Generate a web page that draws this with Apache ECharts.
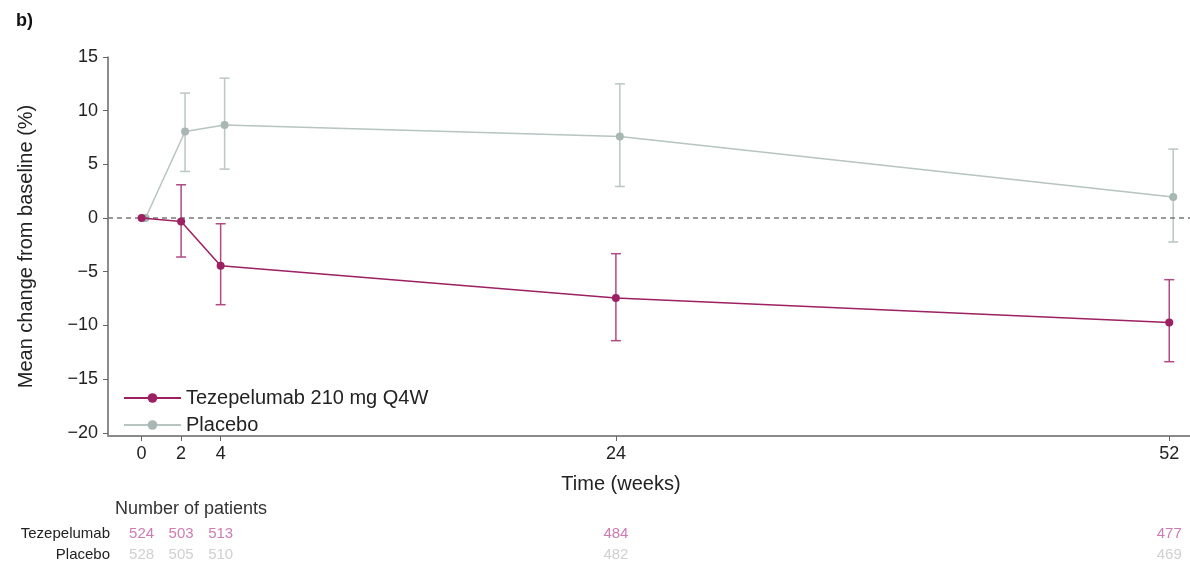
<!DOCTYPE html>
<html>
<head>
<meta charset="utf-8">
<script src="https://cdn.jsdelivr.net/npm/echarts@6/dist/echarts.min.js"></script>
<style>html,body{margin:0;padding:0;background:#fff}#c{width:1190px;height:565px}</style>
</head>
<body>
<div id="c"></div>
<script>
// ---- data ----
const weeks = [0, 2, 4, 24, 52];
const xTicks = [0, 2, 4, 24, 52];
const yTicks = [-20, -15, -10, -5, 0, 5, 10, 15];
const tezName = 'Tezepelumab 210 mg Q4W';
const pboName = 'Placebo';
const tezMean = [0, -0.32, -4.44, -7.45, -9.72];
const tezLow  = [null, -3.63, -8.07, -11.42, -13.38];
const tezHigh = [null, 3.1, -0.53, -3.32, -5.74];
const pboMean = [0, 8.06, 8.66, 7.6, 1.96];
const pboLow  = [null, 4.34, 4.56, 2.94, -2.23];
const pboHigh = [null, 11.64, 13.03, 12.5, 6.42];
const rowNames = ['Placebo', 'Tezepelumab'];
const tezN = [524, 503, 513, 484, 477];
const pboN = [528, 505, 510, 482, 469];
const PBO_SHIFT = 0.2; // small horizontal dodge of placebo marks

const FONT = 'Liberation Sans, Arial, sans-serif';
const TEZ = '#9c2062', TEZ_ERR = '#b04a84', TEZ_N = '#c25aa0';
const PBO = '#b7c4c1', PBO_MK = '#a9b7b4', PBO_ERR = '#bcc6c4', PBO_N = '#c4c4c4';

function pts(xs, ys, shift) { return xs.map((x, i) => [x + shift, ys[i]]); }
function errData(xs, lo, hi, shift) {
  const out = [];
  xs.forEach((x, i) => { if (lo[i] != null) out.push([x + shift, lo[i], hi[i]]); });
  return out;
}
function errRender(color) {
  return function (params, api) {
    const x = api.value(0);
    const p1 = api.coord([x, api.value(1)]);
    const p2 = api.coord([x, api.value(2)]);
    const w = 5;
    const st = { stroke: color, lineWidth: 1.5 };
    return { type: 'group', children: [
      { type: 'line', shape: { x1: p1[0], y1: p1[1], x2: p2[0], y2: p2[1] }, style: st },
      { type: 'line', shape: { x1: p1[0] - w, y1: p1[1], x2: p1[0] + w, y2: p1[1] }, style: st },
      { type: 'line', shape: { x1: p2[0] - w, y1: p2[1], x2: p2[0] + w, y2: p2[1] }, style: st }
    ]};
  };
}

const chart = echarts.init(document.getElementById('c'));
const XMIN = -1.7, XMAX = 53.05;
chart.setOption({
  animation: false,
  textStyle: { fontFamily: FONT },
  graphic: [
    { type: 'text', left: 16, top: 12, style: { text: 'b)', font: 'bold 18px ' + FONT, fill: '#111' } },
    { type: 'text', left: 115, top: 500, style: { text: 'Number of patients', font: '18px ' + FONT, fill: '#333' } }
  ],
  grid: [
    { left: 108, right: 0, top: 57, bottom: 129, containLabel: false },
    { left: 108, right: 0, top: 524, height: 42, containLabel: false }
  ],
  legend: {
    left: 118, top: 383, orient: 'vertical',
    itemWidth: 57, itemHeight: 12, itemGap: 7,
    textStyle: { fontSize: 20, color: '#222', lineHeight: 20, padding: [0, 0, 0, 0], fontFamily: FONT },
    data: [tezName, pboName]
  },
  xAxis: [
    {
      gridIndex: 0, type: 'value', min: XMIN, max: XMAX,
      axisLine: { show: true, onZero: false, lineStyle: { color: '#8a8a8a', width: 2 } },
      axisTick: { show: true, length: 5, customValues: xTicks, lineStyle: { color: '#666' } },
      axisLabel: { customValues: xTicks, fontSize: 18, color: '#222', margin: 9 },
      splitLine: { show: false },
      name: 'Time (weeks)', nameLocation: 'middle', nameGap: 38,
      nameTextStyle: { fontSize: 20, color: '#222', padding: [0, 56, 0, 0] }
    },
    {
      gridIndex: 1, type: 'value', min: XMIN, max: XMAX, show: false
    }
  ],
  yAxis: [
    {
      gridIndex: 0, type: 'value', min: -20.3, max: 15,
      axisLine: { show: true, onZero: false, lineStyle: { color: '#666', width: 1.5 } },
      axisTick: { show: true, length: 5, customValues: yTicks, lineStyle: { color: '#666' } },
      axisLabel: { customValues: yTicks, fontSize: 18, color: '#222', margin: 10,
        formatter: v => (v < 0 ? '\u2212' + Math.abs(v) : String(v)) },
      splitLine: { show: false },
      name: 'Mean change from baseline (%)', nameLocation: 'middle', nameGap: 72,
      nameTextStyle: { fontSize: 20, color: '#222' }
    },
    {
      gridIndex: 1, type: 'category', data: rowNames,
      axisLine: { show: false }, axisTick: { show: false },
      axisLabel: { fontSize: 15, color: '#222', margin: -2 }
    }
  ],
  series: [
    {
      type: 'line', name: '__zero', xAxisIndex: 0, yAxisIndex: 0, data: [],
      silent: true,
      markLine: {
        silent: true, symbol: 'none', label: { show: false },
        lineStyle: { color: '#7a7a7a', type: [5, 4], width: 1.5 },
        data: [{ yAxis: 0 }]
      }
    },
    {
      type: 'custom', name: '__errPbo', xAxisIndex: 0, yAxisIndex: 0,
      renderItem: errRender(PBO_ERR), data: errData(weeks, pboLow, pboHigh, PBO_SHIFT),
      encode: { x: 0, y: [1, 2] }, z: 2
    },
    {
      type: 'line', name: pboName, xAxisIndex: 0, yAxisIndex: 0,
      data: pts(weeks, pboMean, PBO_SHIFT),
      symbol: 'circle', symbolSize: 8, showAllSymbol: true,
      lineStyle: { color: PBO, width: 1.5 }, itemStyle: { color: PBO_MK }, z: 3
    },
    {
      type: 'custom', name: '__errTez', xAxisIndex: 0, yAxisIndex: 0,
      renderItem: errRender(TEZ_ERR), data: errData(weeks, tezLow, tezHigh, 0),
      encode: { x: 0, y: [1, 2] }, z: 4
    },
    {
      type: 'line', name: tezName, xAxisIndex: 0, yAxisIndex: 0,
      data: pts(weeks, tezMean, 0),
      symbol: 'circle', symbolSize: 8, showAllSymbol: true,
      lineStyle: { color: TEZ, width: 1.5 }, itemStyle: { color: TEZ }, z: 5
    },
    {
      type: 'scatter', name: '__nTez', xAxisIndex: 1, yAxisIndex: 1, symbolSize: 0,
      data: weeks.map((w, i) => [w, 'Tezepelumab', tezN[i]]),
      label: { show: true, position: 'inside', formatter: p => String(p.value[2]),
        fontSize: 15, color: TEZ_N, fontFamily: FONT }
    },
    {
      type: 'scatter', name: '__nPbo', xAxisIndex: 1, yAxisIndex: 1, symbolSize: 0,
      data: weeks.map((w, i) => [w, 'Placebo', pboN[i]]),
      label: { show: true, position: 'inside', formatter: p => String(p.value[2]),
        fontSize: 15, color: PBO_N, fontFamily: FONT }
    }
  ]
});
</script>
</body>
</html>
